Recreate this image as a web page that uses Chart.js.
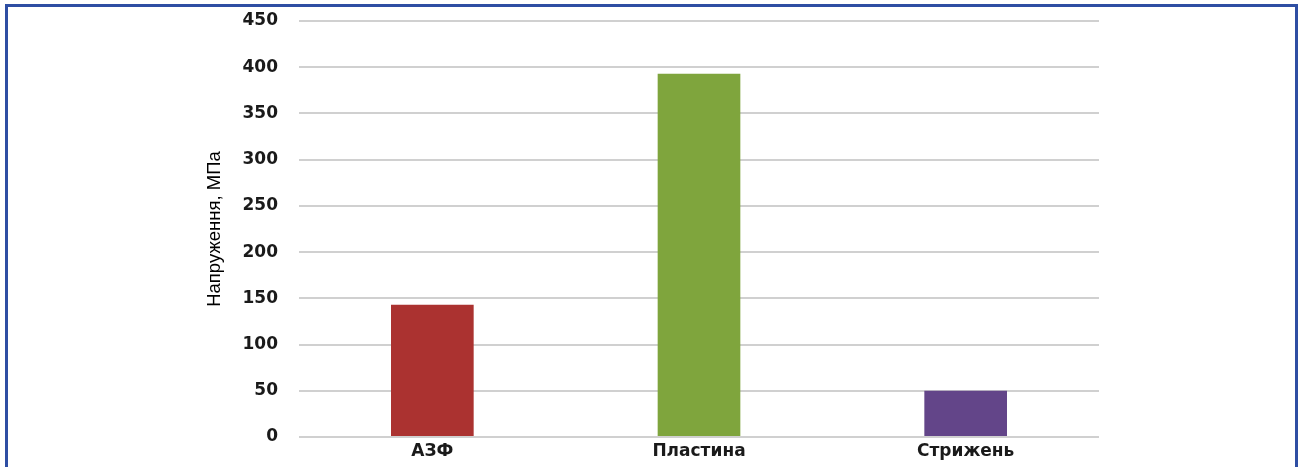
<!DOCTYPE html>
<html>
<head>
<meta charset="utf-8">
<script src="https://cdn.jsdelivr.net/npm/chart.js@4/dist/chart.umd.min.js"></script>
<style>
  html, body { margin: 0; padding: 0; background: #ffffff; }
  #wrap { position: relative; width: 1300px; height: 467px; overflow: hidden; }
  #frame {
    position: absolute; left: 5px; top: 4px; width: 1287px; height: 520px;
    border: 3px solid #2e4ea3; box-sizing: content-box;
  }
  #chart { position: absolute; left: 0; top: 0; }
</style>
</head>
<body>
<div id="wrap">
  <div id="frame"></div>
  <canvas id="chart" width="1300" height="467"></canvas>
</div>
<script>
// дані з рисунка
const categories = ['АЗФ', 'Пластина', 'Стрижень'];
const stressValues = [143, 393, 50];
const barColors = ['#ab3230', '#7fa53d', '#634589'];
const yTicks = [0, 50, 100, 150, 200, 250, 300, 350, 400, 450];
const yTitle = 'Напруження, МПа';

const fontFamily = '"DejaVu Sans", "Liberation Sans", Arial, sans-serif';
const titleFamily = '"Liberation Sans", Arial, sans-serif';

new Chart(document.getElementById('chart'), {
  type: 'bar',
  data: {
    labels: categories,
    datasets: [{
      data: stressValues,
      backgroundColor: barColors,
      borderWidth: 0,
      barPercentage: 0.31,
      categoryPercentage: 1
    }]
  },
  options: {
    responsive: false,
    animation: false,
    layout: { autoPadding: false, padding: { top: 21, right: 201, bottom: 0, left: 0 } },
    plugins: {
      legend: { display: false },
      tooltip: { enabled: false }
    },
    scales: {
      x: {
        grid: { display: false, drawTicks: false },
        border: { display: false },
        ticks: {
          color: '#1a1a1a',
          padding: 4,
          font: { family: fontFamily, size: 17, weight: 'bold' }
        },
        afterFit: (scale) => {
          scale.height = 30;
          scale.paddingLeft = 0;
          scale.paddingRight = 0;
        }
      },
      y: {
        min: 0,
        max: 450,
        afterBuildTicks: (scale) => {
          scale.ticks = yTicks.map(v => ({ value: v }));
        },
        grid: { color: '#d0d0d0', lineWidth: 2, drawTicks: false },
        border: { display: false },
        ticks: {
          color: '#1a1a1a',
          padding: 21,
          font: { family: fontFamily, size: 17, weight: 'bold' }
        },
        title: {
          display: true,
          text: yTitle,
          color: '#000000',
          padding: { top: 204, bottom: 0 },
          font: { family: titleFamily, size: 18.5 }
        },
        afterFit: (scale) => {
          scale.width = 299;
          scale.paddingTop = 0;
          scale.paddingBottom = 0;
        }
      }
    }
  }
});
</script>
</body>
</html>
